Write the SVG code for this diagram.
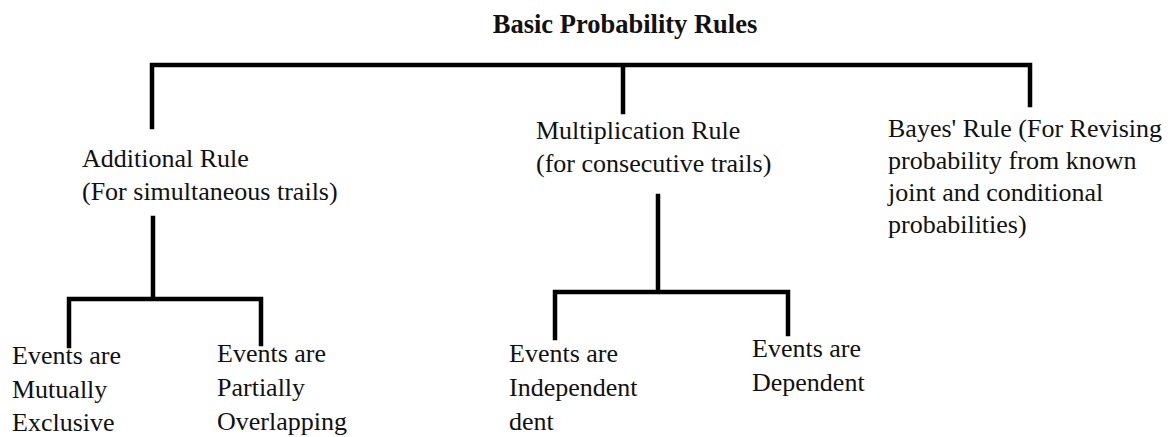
<svg xmlns="http://www.w3.org/2000/svg" width="1168" height="437" viewBox="0 0 1168 437">
<style>
.t{font-family:"Liberation Serif","DejaVu Serif",serif;font-size:26px;fill:#111}
.title{font-family:"Liberation Serif",serif;font-size:26.5px;font-weight:bold;fill:#111}
.c{stroke:#000;stroke-width:4.5;fill:none;stroke-linecap:square}
</style>
<rect width="1168" height="437" fill="#fff"/>
<g id="connectors">
<path class="c" d="M152 127V65H1030V105M623 65V112"/>
<path class="c" d="M153 218V299M69 346V299H261V344"/>
<path class="c" d="M658 196V292M555 338V292H788V334"/>
</g>
<g id="title"><text class="title" x="625" y="33" text-anchor="middle">Basic Probability Rules</text></g>
<g id="additional"><text class="t" x="82" y="167">Additional Rule</text><text class="t" x="82" y="200">(For simultaneous trails)</text></g>
<g id="multiplication"><text class="t" x="536" y="139">Multiplication Rule</text><text class="t" x="536" y="172">(for consecutive trails)</text></g>
<g id="bayes"><text class="t" x="888" y="137">Bayes' Rule (For Revising</text><text class="t" x="888" y="169">probability from known</text><text class="t" x="888" y="201">joint and conditional</text><text class="t" x="888" y="233">probabilities)</text></g>
<g id="mutually"><text class="t" x="12" y="364">Events are</text><text class="t" x="12" y="398">Mutually</text><text class="t" x="12" y="431">Exclusive</text></g>
<g id="partially"><text class="t" x="217" y="362">Events are</text><text class="t" x="217" y="396">Partially</text><text class="t" x="217" y="430">Overlapping</text></g>
<g id="independent"><text class="t" x="509" y="362">Events are</text><text class="t" x="509" y="396">Independent</text><text class="t" x="509" y="430">dent</text></g>
<g id="dependent"><text class="t" x="752" y="357">Events are</text><text class="t" x="752" y="391">Dependent</text></g>
</svg>
